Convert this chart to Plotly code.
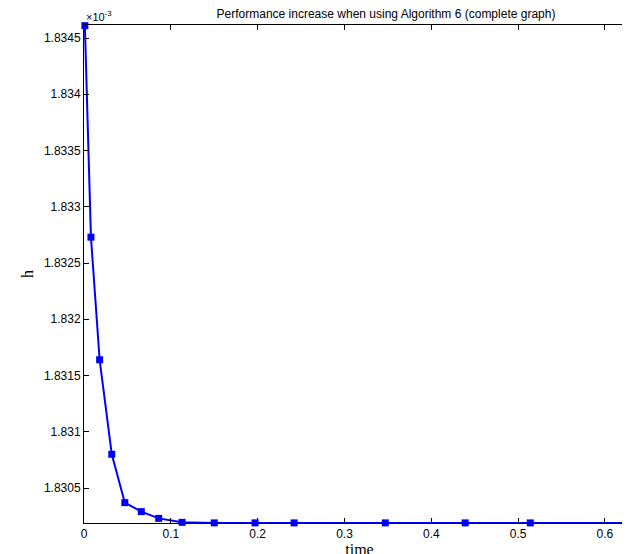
import plotly.graph_objects as go

time = [0.001, 0.008, 0.018, 0.032, 0.047, 0.066, 0.086, 0.113, 0.150, 0.197, 0.242, 0.347, 0.439, 0.514, 0.632]
h = [1.83461, 1.83273, 1.83164, 1.83080, 1.83037, 1.83016, 1.83023, 1.830195, 1.83019, 1.83019, 1.83019, 1.83019, 1.83019, 1.83019, 1.83019]
h[5] = 1.83029

fig = go.Figure(go.Scatter(
    x=time, y=h, mode='lines+markers', cliponaxis=False,
    line=dict(color='#0000ff', width=2),
    marker=dict(symbol='square', size=7, color='#0000ff')
))

axis_common = dict(
    showgrid=False, zeroline=False, showline=True, mirror='ticks',
    linecolor='black', linewidth=1, ticks='inside', ticklen=5, automargin=False,
    tickcolor='black', tickfont=dict(family='Liberation Sans', size=12, color='black')
)

fig.update_layout(
    width=630, height=554,
    plot_bgcolor='white', paper_bgcolor='white',
    margin=dict(l=76, r=3, t=17, b=39),
    showlegend=False,
    title=dict(text='Performance increase when using Algorithm 6 (complete graph)',
               x=0.6, xanchor='center', y=0.997, yanchor='top',
               font=dict(family='Liberation Sans', size=12, color='black')),
    xaxis=dict(axis_common, range=[0, 0.6346], dtick=0.1,
               title=dict(text='time', standoff=0,
                          font=dict(family='Liberation Serif', size=16, color='black'))),
    yaxis=dict(axis_common, range=[1.830189, 1.834616], dtick=0.0005, tickformat='.4~f',
               title=dict(text='h', standoff=6,
                          font=dict(family='Liberation Serif', size=16, color='black'))),
    annotations=[dict(text='×10<sup>-3</sup>', xref='paper', yref='paper', x=0, y=1,
                      xanchor='left', yanchor='bottom', showarrow=False,
                      font=dict(family='Liberation Sans', size=11, color='black'))]
)

fig.write_html("out.html")
